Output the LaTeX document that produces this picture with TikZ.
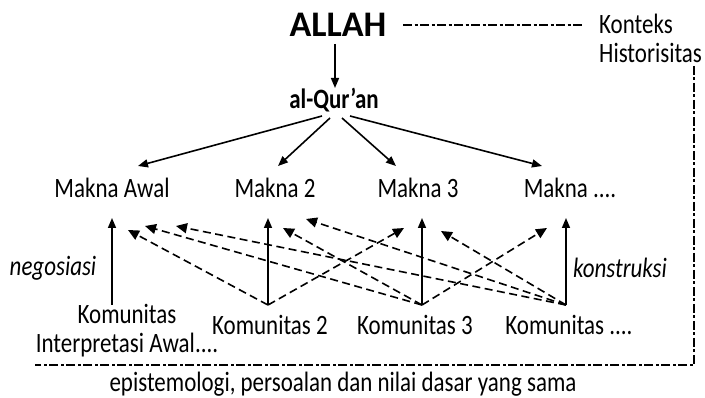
\documentclass[tikz,border=0pt]{standalone}
\usepackage{fontspec}
\setmainfont{Carlito}
\usetikzlibrary{arrows.meta}
\newcommand{\cn}[1]{\scalebox{0.82}[1]{#1}}
\begin{document}
\begin{tikzpicture}[x=1pt,y=-1pt,
  lbl/.style={inner sep=0pt,font=\fontsize{28}{32}\selectfont},
  solidarr/.style={line width=1.6pt,-{Triangle[length=10pt,width=8pt]}},
  dasharr/.style={line width=1.6pt,dash pattern=on 8pt off 4.5pt,-{Triangle[length=11pt,width=10pt]}},
  ctxline/.style={line width=1.4pt,dash pattern=on 9pt off 2.5pt on 3pt off 2.5pt}]
\useasboundingbox (0,0) rectangle (705,398);
% text nodes
\node[lbl,font=\fontsize{36}{38}\bfseries\selectfont] (allah) at (338,25) {ALLAH};
\node[lbl,anchor=west] (konteks) at (599,24) {\cn{Konteks}};
\node[lbl,anchor=west] (hist) at (599,53) {\cn{Historisitas}};
\node[lbl,font=\fontsize{28}{32}\bfseries\selectfont] (quran) at (334,100) {\cn{al-Qur’an}};
\node[lbl] (m1) at (112,188) {\cn{Makna Awal}};
\node[lbl] (m2) at (275,188) {\cn{Makna 2}};
\node[lbl] (m3) at (418,188) {\cn{Makna 3}};
\node[lbl] (m4) at (570,188) {\cn{Makna ....}};
\node[lbl,font=\fontsize{28}{32}\itshape\selectfont] (nego) at (53,268) {\cn{negosiasi}};
\node[lbl,font=\fontsize{28}{32}\itshape\selectfont] (kons) at (620,268) {\cn{konstruksi}};
\node[lbl,align=center,font=\fontsize{28}{29}\selectfont] (k1) at (127,331) {\cn{Komunitas}\\\cn{Interpretasi Awal....}};
\node[lbl] (k2) at (270,325) {\cn{Komunitas 2}};
\node[lbl] (k3) at (415,325) {\cn{Komunitas 3}};
\node[lbl] (k4) at (569,325) {\cn{Komunitas ....}};
\node[lbl] (epi) at (343,384) {\cn{epistemologi, persoalan dan nilai dasar yang sama}};
% coordinates
\coordinate (aB) at (335,44);
\coordinate (qT) at (335,88);
\coordinate (q1) at (322,116); \coordinate (t1) at (138,166);
\coordinate (q2) at (330,118); \coordinate (t2) at (278,166);
\coordinate (q3) at (342,118); \coordinate (t3) at (396,166);
\coordinate (q4) at (350,116); \coordinate (t4) at (542,166);
\coordinate (b1) at (112,305); \coordinate (u1) at (112,218);
\coordinate (b2) at (268,305); \coordinate (u2) at (268,218);
\coordinate (b3) at (422,305); \coordinate (u3) at (422,218);
\coordinate (b4) at (566,305); \coordinate (u4) at (566,218);
\coordinate (ma) at (128,230);
\coordinate (mb) at (145,226);
\coordinate (mc) at (176,226);
\coordinate (m2a) at (283,228);
\coordinate (m2b) at (306,219);
\coordinate (m3a) at (404,228);
\coordinate (m3b) at (441,231);
\coordinate (m4a) at (547,228);
\coordinate (c0) at (403,25); \coordinate (c1) at (583,25);
\coordinate (c2) at (694,66); \coordinate (c3) at (694,365); \coordinate (c4) at (35,365);
% connectors
\draw[solidarr] (aB) -- (qT);
\draw[solidarr] (q1) -- (t1);
\draw[solidarr] (q2) -- (t2);
\draw[solidarr] (q3) -- (t3);
\draw[solidarr] (q4) -- (t4);
\foreach \i in {1,2,3,4} \draw[solidarr] (b\i) -- (u\i);
\draw[dasharr] (b2) -- (ma);
\draw[dasharr] (b2) -- (m3a);
\draw[dasharr] (b3) -- (mb);
\draw[dasharr] (b3) -- (m2a);
\draw[dasharr] (b3) -- (m4a);
\draw[dasharr] (b4) -- (mc);
\draw[dasharr] (b4) -- (m2b);
\draw[dasharr] (b4) -- (m3b);
\draw[ctxline] (c0) -- (c1);
\draw[ctxline] (c2) -- (c3) -- (c4);
\end{tikzpicture}
\end{document}
